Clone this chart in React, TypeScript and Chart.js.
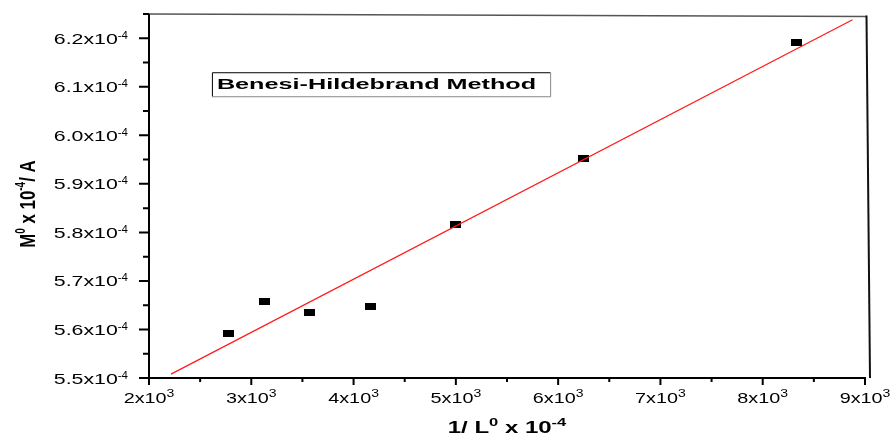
import { useEffect, useRef } from "react";
import { Chart, registerables } from "chart.js";

Chart.register(...registerables);

// ---- data ----
const xValues = [2778, 3125, 3571, 4167, 5000, 6250, 8333];
const yValues = [5.591e-4, 5.657e-4, 5.634e-4, 5.648e-4, 5.817e-4, 5.952e-4, 6.192e-4];
const fitX = [2215, 8878];
const fitY = [5.508e-4, 6.238e-4];

const xMajorTicks = [2000, 3000, 4000, 5000, 6000, 7000, 8000, 9000];
const xTickLabels = ["2x10", "3x10", "4x10", "5x10", "6x10", "7x10", "8x10", "9x10"];
const xTickExp = "3";
const xMinorTicks = [2500, 3500, 4500, 5500, 6500, 7500, 8500];

const yMajorTicks = [5.5e-4, 5.6e-4, 5.7e-4, 5.8e-4, 5.9e-4, 6.0e-4, 6.1e-4, 6.2e-4];
const yTickLabels = ["5.5x10", "5.6x10", "5.7x10", "5.8x10", "5.9x10", "6.0x10", "6.1x10", "6.2x10"];
const yTickExp = "-4";
const yMinorTicks = [5.55e-4, 5.65e-4, 5.75e-4, 5.85e-4, 5.95e-4, 6.05e-4, 6.15e-4, 6.25e-4];

const xRange = [2000, 9000];
const yRange = [5.5e-4, 6.25e-4];

const boxTitle = "Benesi-Hildebrand Method";
const boxAnchor = [2615, 6.13e-4];

type Run = { t: string; sup?: boolean };
const xTitleRuns: Run[] = [{ t: "1/ L" }, { t: "0", sup: true }, { t: " x 10" }, { t: "-4", sup: true }];
const yTitleRuns: Run[] = [{ t: "M" }, { t: "0", sup: true }, { t: " x 10" }, { t: "-4", sup: true }, { t: "/ A" }];

const FONT = '"Liberation Sans", Arial, Helvetica, sans-serif';

type TextOpts = { size: number; supSize: number; bold?: boolean; sx: number; ssx: number; rise: number };

function fontOf(o: TextOpts, sup?: boolean) {
  return `${o.bold ? "bold " : ""}${sup ? o.supSize : o.size}px ${FONT}`;
}

function runsWidth(ctx: CanvasRenderingContext2D, runs: Run[], o: TextOpts) {
  let w = 0;
  for (const r of runs) {
    ctx.font = fontOf(o, r.sup);
    w += ctx.measureText(r.t).width * (r.sup ? o.ssx : o.sx);
  }
  return w;
}

function drawRuns(ctx: CanvasRenderingContext2D, runs: Run[], x: number, y: number, o: TextOpts) {
  let cx = x;
  for (const r of runs) {
    ctx.font = fontOf(o, r.sup);
    const s = r.sup ? o.ssx : o.sx;
    ctx.save();
    ctx.translate(cx, r.sup ? y - o.rise : y);
    ctx.scale(s, 1);
    ctx.textAlign = "left";
    ctx.textBaseline = "alphabetic";
    ctx.fillText(r.t, 0, 0);
    ctx.restore();
    cx += ctx.measureText(r.t).width * s;
  }
}

const axesPlugin = {
  id: "customAxes",
  afterDatasetsDraw(chart: any) {
    const { ctx, chartArea: a } = chart;
    const xs = chart.scales.x;
    const ys = chart.scales.y;
    ctx.save();
    ctx.lineCap = "butt";

    // frame: top and right (slightly skewed like the reference)
    ctx.strokeStyle = "#555";
    ctx.lineWidth = 1.5;
    ctx.beginPath();
    ctx.moveTo(a.left, a.top);
    ctx.lineTo(a.right + 2, a.top + 2.5);
    ctx.stroke();
    ctx.strokeStyle = "#111";
    ctx.lineWidth = 2;
    ctx.beginPath();
    ctx.moveTo(a.right + 1.5, a.top + 1.5);
    ctx.lineTo(a.right + 5, a.bottom);
    ctx.stroke();

    // axes
    ctx.strokeStyle = "#000";
    ctx.lineWidth = 2;
    ctx.beginPath();
    ctx.moveTo(a.left, a.top);
    ctx.lineTo(a.left, a.bottom + 1);
    ctx.moveTo(a.left - 1, a.bottom);
    ctx.lineTo(a.right + 1, a.bottom);
    ctx.stroke();

    // ticks
    ctx.beginPath();
    for (const v of xMajorTicks) {
      const px = xs.getPixelForValue(v);
      ctx.moveTo(px, a.bottom);
      ctx.lineTo(px, a.bottom + 7);
    }
    for (const v of xMinorTicks) {
      const px = xs.getPixelForValue(v);
      ctx.moveTo(px, a.bottom);
      ctx.lineTo(px, a.bottom + 4);
    }
    for (const v of yMajorTicks) {
      const py = ys.getPixelForValue(v);
      ctx.moveTo(a.left, py);
      ctx.lineTo(a.left - 10, py);
    }
    for (const v of yMinorTicks) {
      const py = ys.getPixelForValue(v);
      ctx.moveTo(a.left, py);
      ctx.lineTo(a.left - 6, py);
    }
    ctx.stroke();

    ctx.fillStyle = "#000";
    // x tick labels
    const xo: TextOpts = { size: 15, supSize: 10, sx: 1.32, ssx: 1.4, rise: 6.5 };
    xMajorTicks.forEach((v, i) => {
      const runs: Run[] = [{ t: xTickLabels[i] }, { t: xTickExp, sup: true }];
      const w = runsWidth(ctx, runs, xo);
      const px = xs.getPixelForValue(v);
      drawRuns(ctx, runs, px - w / 2, a.bottom + 25, xo);
    });

    // y tick labels
    const yo: TextOpts = { size: 15, supSize: 10, sx: 1.42, ssx: 1.15, rise: 5 };
    yMajorTicks.forEach((v, i) => {
      const runs: Run[] = [{ t: yTickLabels[i] }, { t: yTickExp, sup: true }];
      const w = runsWidth(ctx, runs, yo);
      const py = ys.getPixelForValue(v);
      drawRuns(ctx, runs, a.left - 21 - w, py + 5.5, yo);
    });

    // x title
    const xt: TextOpts = { size: 16, supSize: 11, bold: true, sx: 1.5, ssx: 1.5, rise: 7 };
    const xtw = runsWidth(ctx, xTitleRuns, xt);
    drawRuns(ctx, xTitleRuns, (a.left + a.right) / 2 - xtw / 2, a.bottom + 55, xt);

    // y title (rotated)
    const yt: TextOpts = { size: 16, supSize: 10, bold: true, sx: 1.05, ssx: 1.0, rise: 7 };
    const ytw = runsWidth(ctx, yTitleRuns, yt);
    ctx.save();
    ctx.translate(35, (a.top + a.bottom) / 2 + 8);
    ctx.rotate(-Math.PI / 2);
    ctx.scale(1, 1.38);
    drawRuns(ctx, yTitleRuns, -ytw / 2, 0, yt);
    ctx.restore();

    // annotation box
    const bo: TextOpts = { size: 15, supSize: 10, bold: true, sx: 1.68, ssx: 1, rise: 0 };
    const bx = xs.getPixelForValue(boxAnchor[0]);
    const by = ys.getPixelForValue(boxAnchor[1]);
    const tw = runsWidth(ctx, [{ t: boxTitle }], bo);
    const bw = tw + 19;
    const bh = 24;
    ctx.fillStyle = "#fff";
    ctx.fillRect(bx, by, bw, bh);
    ctx.lineWidth = 1;
    ctx.strokeStyle = "#888";
    ctx.beginPath();
    ctx.moveTo(bx + bw + 0.5, by);
    ctx.lineTo(bx + bw + 0.5, by + bh + 0.5);
    ctx.lineTo(bx, by + bh + 0.5);
    ctx.stroke();
    ctx.strokeStyle = "#000";
    ctx.beginPath();
    ctx.moveTo(bx + 0.5, by + bh);
    ctx.lineTo(bx + 0.5, by + 0.5);
    ctx.lineTo(bx + bw, by + 0.5);
    ctx.stroke();
    ctx.fillStyle = "#000";
    drawRuns(ctx, [{ t: boxTitle }], bx + 5, by + 17, bo);

    ctx.restore();
  },
};

export default function App() {
  const ref = useRef<HTMLCanvasElement | null>(null);

  useEffect(() => {
    document.body.style.margin = "0";
    const canvas = ref.current;
    if (!canvas) return;

    const marker = document.createElement("canvas");
    marker.width = 11;
    marker.height = 7;
    const mctx = marker.getContext("2d");
    if (mctx) {
      mctx.fillStyle = "#000";
      mctx.fillRect(0, 0, 11, 7);
    }

    const chart = new Chart(canvas, {
      type: "scatter",
      data: {
        datasets: [
          {
            type: "line",
            label: "fit",
            data: fitX.map((x, i) => ({ x, y: fitY[i] })),
            borderColor: "#ff1a1a",
            borderWidth: 1.2,
            pointRadius: 0,
            fill: false,
            order: 0,
          } as any,
          {
            type: "scatter",
            label: "data",
            data: xValues.map((x, i) => ({ x, y: yValues[i] })),
            pointStyle: marker as any,
            pointRadius: 6,
            backgroundColor: "#000",
            borderColor: "#000",
            order: 1,
          },
        ],
      },
      options: {
        responsive: false,
        maintainAspectRatio: false,
        animation: false,
        devicePixelRatio: 1,
        layout: { padding: { left: 149, right: 29, top: 14, bottom: 58 } },
        plugins: { legend: { display: false }, tooltip: { enabled: false } },
        scales: {
          x: { type: "linear", min: xRange[0], max: xRange[1], display: false },
          y: { type: "linear", min: yRange[0], max: yRange[1], display: false },
        },
      },
      plugins: [axesPlugin],
    });
    return () => chart.destroy();
  }, []);

  return (
    <div style={{ position: "fixed", left: 0, top: 0, width: 894, height: 436, background: "#fff" }}>
      <canvas ref={ref} width={894} height={436} style={{ width: 894, height: 436, display: "block" }} />
    </div>
  );
}
